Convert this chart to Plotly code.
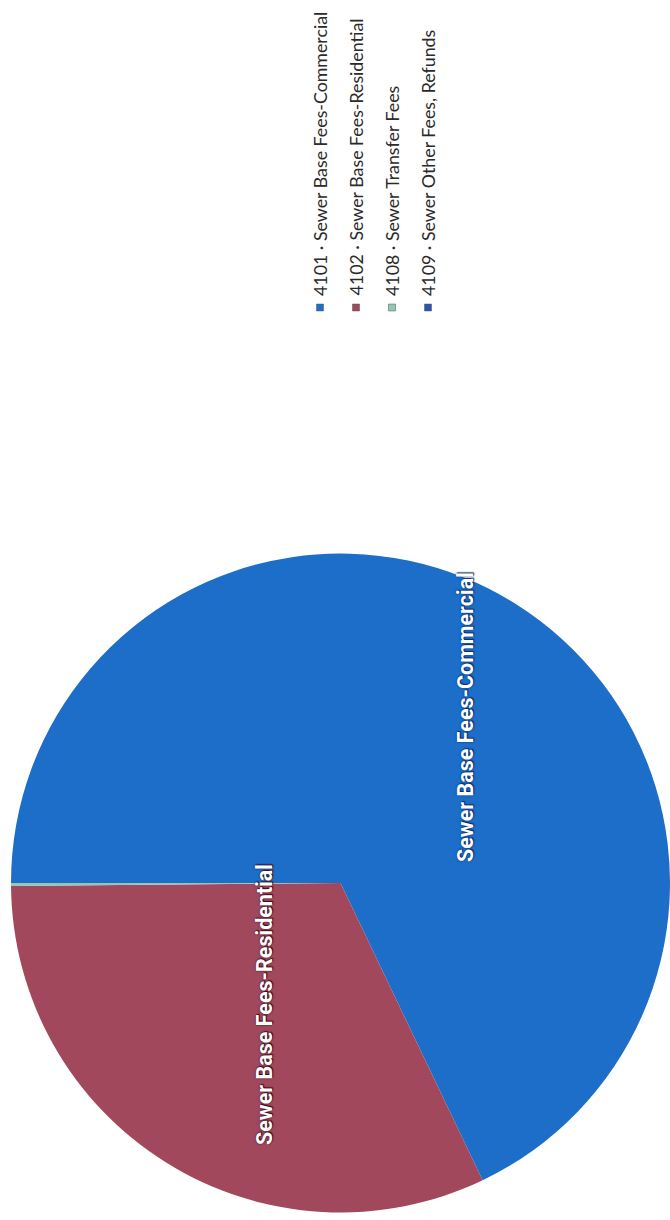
import plotly.graph_objects as go

# Data
codes = ["4101", "4102", "4108", "4109"]
labels = ["Sewer Base Fees-Commercial", "Sewer Base Fees-Residential",
          "Sewer Transfer Fees", "Sewer Other Fees, Refunds"]
values = [67.9, 31.95, 0.15, 0.0]
colors = ["#1c6ec8", "#a1485c", "#8fc7b8", "#2b55b0"]
slice_label_idx = [0, 1]

W, H = 670, 1220

def px(x):
    return x / W

def py(y):
    return 1 - y / H

fig = go.Figure()
fig.add_trace(go.Pie(
    labels=[f"{c} · {l}" for c, l in zip(codes, labels)],
    values=values,
    sort=False,
    direction="clockwise",
    rotation=270,
    marker=dict(colors=colors, line=dict(width=0)),
    textinfo="none",
    hoverinfo="label+percent",
    showlegend=False,
    domain=dict(x=[px(11), 1.0], y=[py(1214), py(552)]),
))

# slice labels (rotated, as in the scanned page)
label_pos = [(465, 717), (264, 1005)]
outline = ["0 0 2px #0a2a6a, 1px 1px 1px #0a2a6a", "0 0 2px #3a0a18, 1px 1px 1px #3a0a18"]
for k, i in enumerate(slice_label_idx):
    x, y = label_pos[k]
    fig.add_annotation(
        x=px(x), y=py(y), xref="paper", yref="paper",
        text=labels[i], showarrow=False, textangle=-90,
        xanchor="center", yanchor="middle",
        font=dict(family="Liberation Sans Narrow, Arial Narrow, Roboto", size=21.5,
                  color="white", weight="bold", shadow=outline[k]),
    )

# manual rotated legend
leg_x = [320, 356, 392, 428]
for i in range(len(codes)):
    x = leg_x[i]
    fig.add_shape(type="rect", xref="paper", yref="paper",
                  x0=px(x - 3.5), x1=px(x + 3.5), y0=py(311), y1=py(304),
                  fillcolor=colors[i], line=dict(color="#555", width=0.5))
    fig.add_annotation(
        x=px(x), y=py(298), xref="paper", yref="paper",
        text=f"{codes[i]} · {labels[i]}", showarrow=False, textangle=-90,
        xanchor="center", yanchor="bottom",
        font=dict(family="Lato, Open Sans", size=17.8, color="#2a2a2a"),
    )

fig.update_layout(
    width=W, height=H,
    margin=dict(l=0, r=0, t=0, b=0),
    paper_bgcolor="white", plot_bgcolor="white",
)
fig.write_html("out.html", config={"displayModeBar": False},
               post_script="document.body.style.margin='0';document.body.style.overflow='hidden';")
